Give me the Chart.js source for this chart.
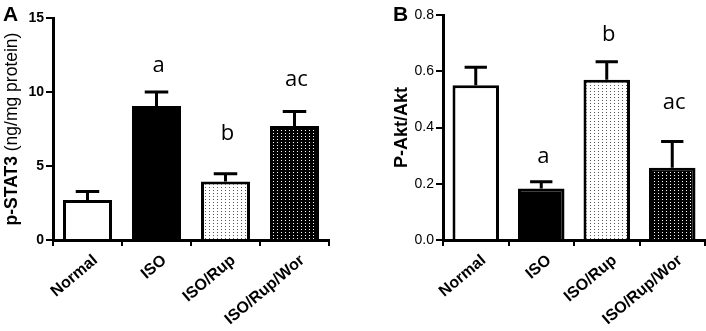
<!DOCTYPE html>
<html>
<head>
<meta charset="utf-8">
<script src="https://cdn.jsdelivr.net/npm/chart.js@4.4.1/dist/chart.umd.min.js"></script>
<style>
  html, body { margin: 0; padding: 0; background: #fff; }
  #wrap { position: relative; width: 706px; height: 331px; overflow: hidden; }
  .panel { position: absolute; top: 0; width: 353px; height: 331px; }
  #pA { left: 0; }
  #pB { left: 353px; }
</style>
</head>
<body>
<div id="wrap">
  <div class="panel" id="pA"><canvas id="cA" width="353" height="331"></canvas></div>
  <div class="panel" id="pB"><canvas id="cB" width="353" height="331"></canvas></div>
</div>
<script>
// ---- data ----
const categories = ['Normal', 'ISO', 'ISO/Rup', 'ISO/Rup/Wor'];
const stat3Means = [2.7, 9.05, 3.95, 7.7];
const stat3Sem = [0.58, 0.95, 0.52, 0.98];
const stat3Letters = ['', 'a', 'b', 'ac'];
const stat3LetterLevel = [null, 11.8, 7.2, 10.8];
const stat3Ticks = [0, 5, 10, 15];

const aktMeans = [0.55, 0.183, 0.57, 0.257];
const aktSem = [0.064, 0.024, 0.064, 0.093];
const aktLetters = ['', 'a', 'b', 'ac'];
const aktLetterLevel = [null, 0.295, 0.729, 0.487];
const aktTicks = [0.0, 0.2, 0.4, 0.6, 0.8];

const FONT = "'Liberation Sans', Arial, sans-serif";

function dotPattern(bg, dot) {
  const c = document.createElement('canvas');
  c.width = 4; c.height = 3;
  const g = c.getContext('2d');
  g.fillStyle = bg; g.fillRect(0, 0, 4, 3);
  g.fillStyle = dot; g.fillRect(1, 1, 1, 1);
  return g.createPattern(c, 'repeat');
}
const fills = ['#ffffff', '#000000', dotPattern('#ffffff', '#555555'), dotPattern('#000000', '#ffffff')];

const extrasPlugin = {
  id: 'extras',
  afterDatasetsDraw(chart, args, opts) {
    const ctx = chart.ctx;
    const meta = chart.getDatasetMeta(0);
    const ys = chart.scales.y;
    ctx.save();
    ctx.strokeStyle = '#000';
    ctx.lineWidth = 3;
    meta.data.forEach((bar, i) => {
      const v = opts.means[i], e = opts.sem[i];
      const top = ys.getPixelForValue(v + e);
      const base = ys.getPixelForValue(v);
      const half = bar.width * 0.24;
      ctx.beginPath();
      ctx.moveTo(bar.x, base);
      ctx.lineTo(bar.x, top);
      ctx.moveTo(bar.x - half, top);
      ctx.lineTo(bar.x + half, top);
      ctx.stroke();
    });
    ctx.fillStyle = '#000';
    ctx.font = "22px 'Open Sans', sans-serif";
    ctx.textAlign = 'center';
    ctx.textBaseline = 'middle';
    meta.data.forEach((bar, i) => {
      if (!opts.letters[i]) return;
      ctx.fillText(opts.letters[i], bar.x + 2, ys.getPixelForValue(opts.levels[i]));
    });
    ctx.restore();
  },
  afterDraw(chart, args, opts) {
    const ctx = chart.ctx;
    const ca = chart.chartArea;
    ctx.save();
    ctx.fillStyle = '#000';
    ctx.font = 'bold 21px ' + FONT;
    ctx.textAlign = 'left';
    ctx.textBaseline = 'top';
    ctx.fillText(opts.panel, opts.panelX, 5);
    ctx.translate(opts.titleX, (ca.top + ca.bottom) / 2);
    ctx.rotate(-Math.PI / 2);
    ctx.textBaseline = 'middle';
    const parts = opts.title;
    let total = 0;
    parts.forEach(p => { ctx.font = p.font; total += ctx.measureText(p.text).width; });
    let x = -total / 2;
    ctx.textAlign = 'left';
    parts.forEach(p => { ctx.font = p.font; ctx.fillText(p.text, x, 0); x += ctx.measureText(p.text).width; });
    ctx.restore();
  }
};

function makeChart(id, cfg) {
  return new Chart(document.getElementById(id), {
    type: 'bar',
    data: {
      labels: categories,
      datasets: [{
        data: cfg.means,
        backgroundColor: fills,
        borderColor: '#000',
        borderWidth: 3,
        borderSkipped: 'bottom',
        barPercentage: 0.71,
        categoryPercentage: 1.0
      }]
    },
    options: {
      responsive: false,
      animation: false,
      devicePixelRatio: 1,
      layout: { padding: { top: cfg.padTop, right: cfg.padRight, left: 0, bottom: 0 } },
      plugins: {
        legend: { display: false },
        tooltip: { enabled: false },
        extras: {
          means: cfg.means, sem: cfg.sem, letters: cfg.letters, levels: cfg.levels,
          panel: cfg.panel, panelX: cfg.panelX, titleX: cfg.titleX, title: cfg.title
        }
      },
      scales: {
        x: {
          grid: { display: true, drawOnChartArea: false, drawTicks: true, tickLength: 6, color: '#000', lineWidth: 2 },
          border: { display: true, color: '#000', width: 3 },
          ticks: {
            color: '#000', font: { family: FONT, size: 16, weight: 'bold' },
            maxRotation: 40, minRotation: 40, padding: 5, labelOffset: 8, autoSkip: false
          },
          afterFit(s) { s.height = 91; }
        },
        y: {
          min: cfg.ticks[0], max: cfg.ticks[cfg.ticks.length - 1],
          afterBuildTicks(s) { s.ticks = cfg.ticks.map(v => ({ value: v })); },
          grid: { display: true, drawOnChartArea: false, drawTicks: true, tickLength: 7, color: '#000', lineWidth: 2 },
          border: { display: true, color: '#000', width: 3 },
          ticks: {
            color: '#000', padding: 2,
            font: { family: FONT, size: 14, weight: cfg.tickWeight },
            callback: cfg.fmt
          },
          afterFit(s) { s.width = cfg.yWidth; }
        }
      }
    },
    plugins: [extrasPlugin]
  });
}

makeChart('cA', {
  means: stat3Means, sem: stat3Sem, letters: stat3Letters, levels: stat3LetterLevel, ticks: stat3Ticks,
  padTop: 18, padRight: 24, yWidth: 53, tickWeight: 'bold',
  fmt: v => String(v),
  panel: 'A', panelX: 3, titleX: 12,
  title: [
    { text: 'p-STAT3 ', font: 'bold 17.5px ' + FONT },
    { text: '(ng/mg protein)', font: '17.5px ' + FONT }
  ]
});

makeChart('cB', {
  means: aktMeans, sem: aktSem, letters: aktLetters, levels: aktLetterLevel, ticks: aktTicks,
  padTop: 15, padRight: 1, yWidth: 90, tickWeight: 'normal',
  fmt: v => Number(v).toFixed(1),
  panel: 'B', panelX: 40, titleX: 49,
  title: [
    { text: 'P-Akt/Akt', font: 'bold 18px ' + FONT }
  ]
});
</script>
</body>
</html>
